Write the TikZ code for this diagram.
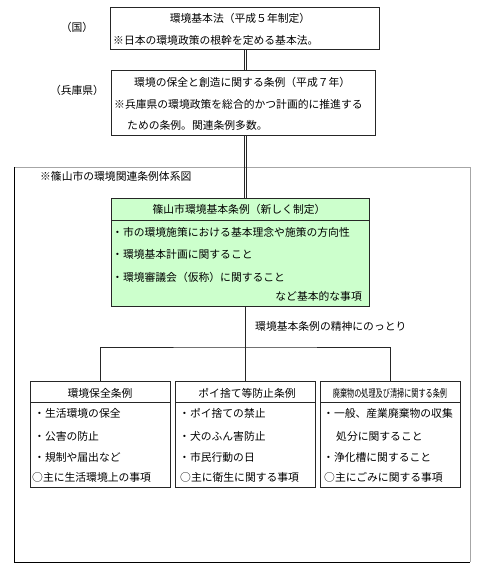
\documentclass[tikz,border=0pt]{standalone}
\usepackage{fontspec}
\setmainfont{Noto Sans CJK JP}
\usetikzlibrary{calc}
\definecolor{lgreen}{HTML}{CCFFCC}
\definecolor{edge}{HTML}{262626}
\begin{document}
\begin{tikzpicture}[x=1pt,y=-1pt,
  box/.style={draw=edge, line width=0.8pt, inner sep=0pt, outer sep=0pt},
  txt/.style={font=\fontsize{10.8}{12}\selectfont, inner sep=0pt, text=black},
  lt/.style={txt, anchor=west},
  rt/.style={txt, anchor=east},
  dline/.style={draw=edge, line width=0.7pt},
  conn/.style={draw=edge, line width=0.8pt}]
\fill[white] (0,0) rectangle (477,571);
\useasboundingbox (0,0) rectangle (477,571);

% outer frame
\node[inner sep=0pt, outer sep=0pt, minimum width=456pt, minimum height=395pt] (fr) at (242,364.5) {};
\draw[gray!70, line width=0.8pt] (fr.north west) -- (fr.north east) -- (fr.south east);
\draw[black, line width=0.8pt] (fr.north west) -- (fr.south west) -- (fr.south east);

% top boxes
\node[box, minimum width=269pt, minimum height=42pt] (b1) at (244.5,28) {};
\node[box, minimum width=264pt, minimum height=65pt] (b2) at (243,102.5) {};
% green box
\node[box, fill=lgreen, minimum width=258pt, minimum height=108pt] (g) at (240,252) {};
\draw[edge, line width=0.8pt] ([yshift=-22pt]g.north west) -- ([yshift=-22pt]g.north east);

% three boxes
\node[box, minimum width=140pt, minimum height=106pt] (ba) at (100,434) {};
\node[box, minimum width=140pt, minimum height=106pt] (bb) at (245,434) {};
\node[box, minimum width=140pt, minimum height=106pt] (bc) at (390,434) {};
\foreach \n in {ba,bb,bc}{
  \draw[edge, line width=0.8pt] ([yshift=-21pt]\n.north west) -- ([yshift=-21pt]\n.north east);
}

% connectors
\coordinate (spineL) at (244,0);
\coordinate (spineR) at (246.2,0);
\coordinate (spine) at (245,0);
\coordinate (j) at (245,347);
\draw[dline] (spineL |- b1.south) -- (spineL |- b2.north);
\draw[dline] (spineR |- b1.south) -- (spineR |- b2.north);
\draw[dline] (spineL |- b2.south) -- (spineL |- g.north);
\draw[dline] (spineR |- b2.south) -- (spineR |- g.north);
\draw[conn] (spine |- g.south) -- (j);
\draw[conn] (ba.north) |- (j) -| (bc.north);
\draw[conn] (j) -- (bb.north);

% labels
\node[txt] (lk) at (77,27) {（国）};
\node[txt] (lh) at (77,90) {（兵庫県）};

\node[txt] (t1a) at (240,18) {環境基本法（平成５年制定）};
\node[lt] (t1b) at (113,40) {※日本の環境政策の根幹を定める基本法。};

\node[lt] (t2a) at (134,82) {環境の保全と創造に関する条例（平成７年）};
\node[lt] (t2b) at (114,104) {※兵庫県の環境政策を総合的かつ計画的に推進する};
\node[lt] (t2c) at (127,125) {ための条例。関連条例多数。};

\node[lt] (cap) at (40,176) {※篠山市の環境関連条例体系図};

\node[txt] (g0) at (239,209) {篠山市環境基本条例（新しく制定）};
\node[lt] (g1) at (112,232) {・市の環境施策における基本理念や施策の方向性};
\node[lt] (g2) at (112,254) {・環境基本計画に関すること};
\node[lt] (g3) at (112,277) {・環境審議会（仮称）に関すること};
\node[rt] (g4) at (362,296) {など基本的な事項};

\node[lt] (spirit) at (255,326) {環境基本条例の精神にのっとり};

% box A
\node[txt] (a0) at (100,393) {環境保全条例};
\node[lt] (a1) at (34,413) {・生活環境の保全};
\node[lt] (a2) at (34,436) {・公害の防止};
\node[lt] (a3) at (34,457) {・規制や届出など};
\node[lt] (a4) at (32,477) {○主に生活環境上の事項};
% box B
\node[txt] (b0) at (247,393) {ポイ捨て等防止条例};
\node[lt] (bb1) at (179,413) {・ポイ捨ての禁止};
\node[lt] (bb2) at (179,436) {・犬のふん害防止};
\node[lt] (bb3) at (179,457) {・市民行動の日};
\node[lt] (bb4) at (180,477) {○主に衛生に関する事項};
% box C
\node[txt] (c0) at (390,393) {\scalebox{0.66}[1]{廃棄物の処理及び清掃に関する条例}};
\node[lt] (c1) at (323,413) {・一般、産業廃棄物の収集};
\node[lt] (c2) at (336,436) {処分に関すること};
\node[lt] (c3) at (323,457) {・浄化槽に関すること};
\node[lt] (c4) at (324,477) {○主にごみに関する事項};
\end{tikzpicture}
\end{document}
